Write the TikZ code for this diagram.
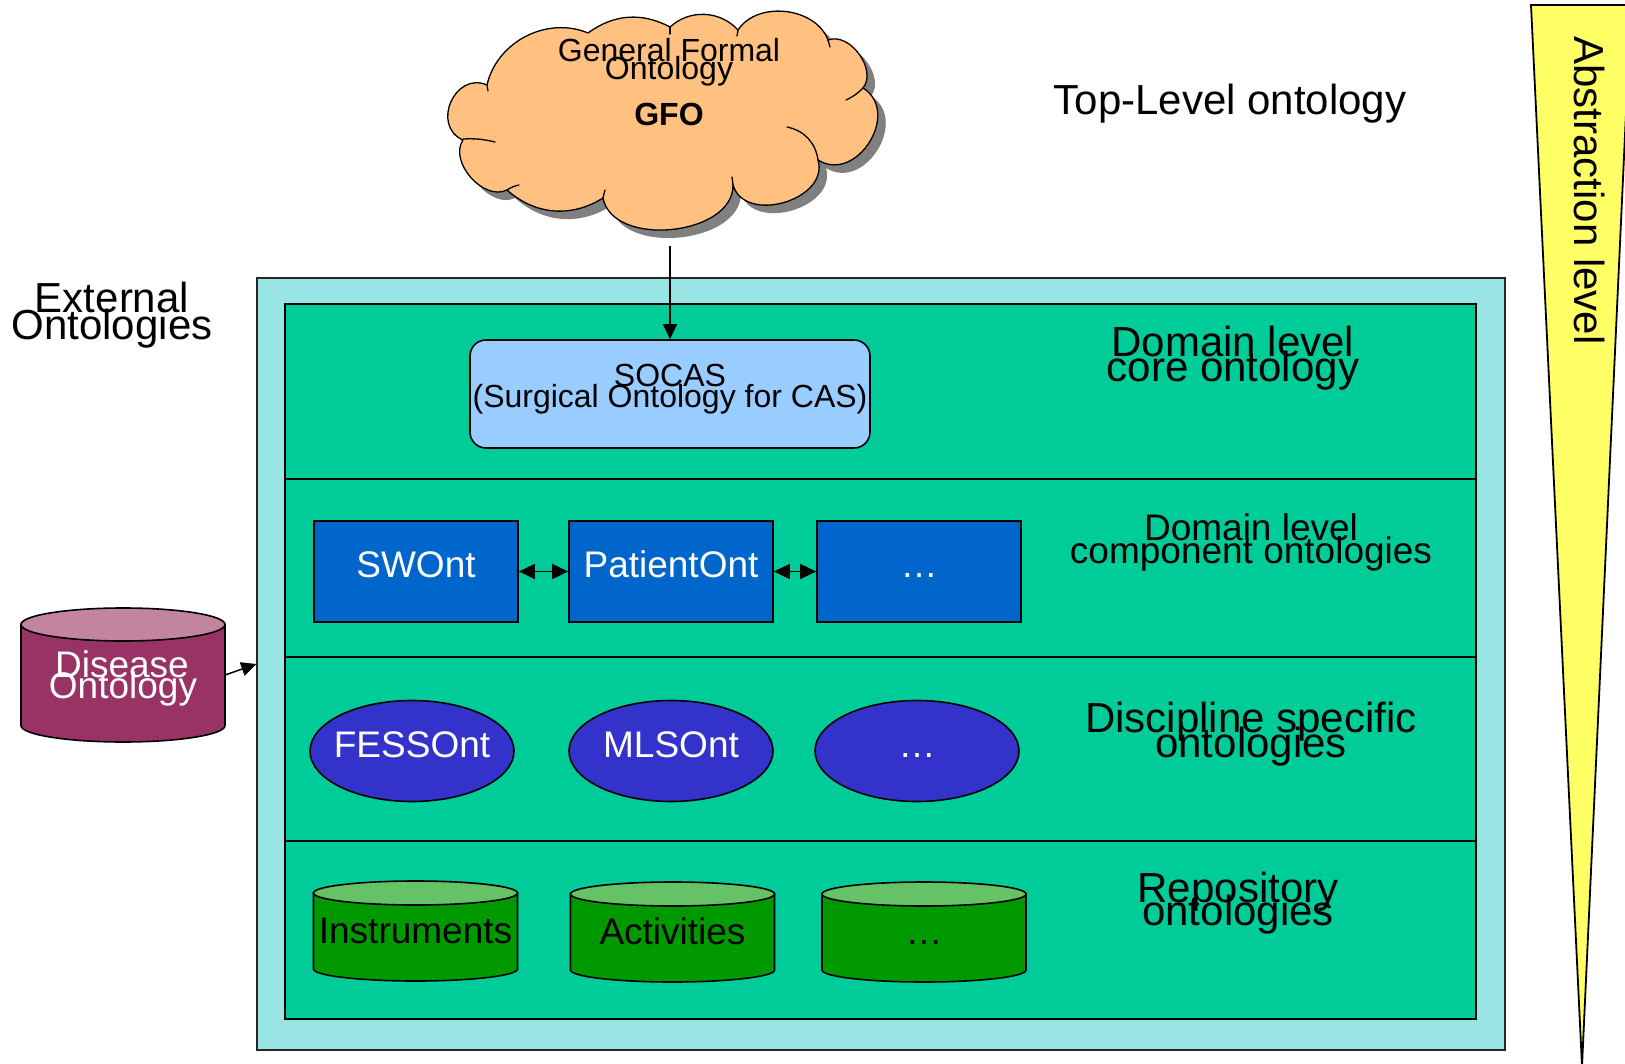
\documentclass[tikz,border=0pt]{standalone}
\usepackage{fontspec}
\setmainfont{Liberation Sans}
\usetikzlibrary{arrows.meta,calc,shapes.geometric}

\definecolor{frameCyan}{HTML}{99E5E5}
\definecolor{layerGreen}{HTML}{00CC99}
\definecolor{cloudOrange}{HTML}{FFC080}
\definecolor{coreBlue}{HTML}{99CCFF}
\definecolor{compBlue}{HTML}{0066CC}
\definecolor{discBlue}{HTML}{3333CC}
\definecolor{repoGreen}{HTML}{009900}
\definecolor{repoTop}{HTML}{66C266}
\definecolor{diseaseRed}{HTML}{993366}
\definecolor{diseaseTop}{HTML}{C2849F}
\definecolor{wedgeYellow}{HTML}{FFFF66}

\newcommand\setfs[1]{\fontsize{#1}{#1}\selectfont}

% drum (database) body: centre, half width, half height, end radius, body colour, lid colour
\newcommand\drumat[6]{%
  \filldraw[fill=#5, line width=1.6pt]
    ($(#1)+(-#2,-#3)$) -- ($(#1)+(-#2,#3)$)
    arc[start angle=180, end angle=360, x radius=#2pt, y radius=#4pt]
    -- ($(#1)+(#2,-#3)$) -- cycle;
  \filldraw[fill=#6, line width=1.6pt] ($(#1)+(0,-#3)$) ellipse[x radius=#2pt, y radius=#4pt];
}

% outline of the GFO cloud
\newcommand\cloudoutline{%
  (487,85)
  to[bend left=50] (588,33)
  to[bend left=32] (670,27)
  to[bend left=45] (738,30)
  to[bend left=63] (828,40)
  to[bend left=75] (863,88)
  to[bend left=90, looseness=1.37] (818,160)
  to[bend left=90, looseness=1.2] (733,185)
  to[bend left=85] (603,198)
  to[bend left=37] (507,190)
  to[bend left=75] (463,140)
  to[bend left=90, looseness=1.5] cycle}

\begin{document}
\begin{tikzpicture}[x=1pt, y=-1pt,
  lbl/.style={inner sep=0pt, anchor=base, font=\setfs{42}},
  frame/.style={draw=black!85, line width=1.4pt, fill=frameCyan, inner sep=0pt,
    minimum width=1248pt, minimum height=772pt},
  layer/.style={draw=black, line width=1.6pt, fill=layerGreen, inner sep=0pt,
    minimum width=1191pt},
  corebox/.style={draw=black, line width=1.6pt, fill=coreBlue, rounded corners=16pt,
    inner sep=0pt, minimum width=400pt, minimum height=108pt},
  compbox/.style={draw=black, line width=1.6pt, fill=compBlue, text=white,
    inner sep=0pt, minimum width=204pt, minimum height=101pt,
    font=\setfs{37}, text height=26pt, text depth=15pt},
  discoval/.style={draw=black, line width=1.6pt, fill=discBlue, text=white, ellipse,
    inner ysep=0pt, inner xsep=-40pt, minimum width=204pt, minimum height=101pt,
    font=\setfs{37}, text height=26pt, text depth=14pt},
  drumnode/.style={inner sep=0pt, minimum width=204pt, minimum height=76pt,
    font=\setfs{37}, text height=30pt, text depth=6pt},
  cloudline/.style={line width=1.3pt, line cap=round},
  arrow/.style={line width=1.5pt, -{Triangle[length=15pt, width=14pt]}},
  twoway/.style={line width=1.6pt,
    {Triangle[length=16pt, width=15pt]}-{Triangle[length=16pt, width=15pt]}},
]
\useasboundingbox (0,0) rectangle (1625,1064);

% abstraction wedge on the right
\filldraw[fill=wedgeYellow, line width=1.8pt, line join=miter]
  (1531,5) -- (1631,5) -- (1582,1066) -- cycle;
\node[lbl, rotate=-90] (abstraction) at (1574,190.5) {Abstraction level};

% top-level ontology cloud with its shadow
\fill[black!50, shift={(8,8)}] \cloudoutline;
\filldraw[fill=cloudOrange, line width=1.3pt] \cloudoutline;
\draw[cloudline] (487,85) -- (488,91);
\draw[cloudline] (670,27) -- (670,34);
\draw[cloudline] (738,30) -- (737,36);
\draw[cloudline] (828,40) -- (830,47);
\draw[cloudline] (863,88) to[bend left=10] (846,100);
\draw[cloudline] (787,127) to[bend left=35] (818,160);
\draw[cloudline] (733,185) -- (732,177);
\draw[cloudline] (603,198) -- (605,190);
\draw[cloudline] (507,190) to[bend left=10] (519,185);
\draw[cloudline] (463,139) to[bend left=8] (495,142);
\node[lbl, font=\setfs{32}] (gfoA) at (669,62) {General Formal};
\node[lbl, font=\setfs{32}] (gfoB) at (669,80) {Ontology};
\node[lbl, font=\setfs{32}\bfseries] (gfo) at (669,126) {GFO};
\coordinate (cloudfoot) at (670,246);

\node[lbl] (toplevel) at (1230,115) {Top-Level ontology};

% external ontologies
\node[lbl] (extA) at (112,313) {External};
\node[lbl] (extB) at (112,340) {Ontologies};

% framework frame and its four layers
\node[frame] (outer) at (881,664) {};
\node[layer, minimum height=175pt] (layerCore) at (880.5,391.5) {};
\node[layer, minimum height=178pt] (layerComp) at (880.5,568) {};
\node[layer, minimum height=184pt] (layerDisc) at (880.5,749) {};
\node[layer, minimum height=178pt] (layerRepo) at (880.5,930) {};

% domain level core ontology
\node[corebox] (socas) at (670,394) {};
\node[lbl, font=\setfs{32}] (socasA) at (670,387) {SOCAS};
\node[lbl, font=\setfs{32}] (socasB) at (670,407) {(Surgical Ontology for CAS)};
\node[lbl] (coreA) at (1233,357) {Domain level};
\node[lbl] (coreB) at (1233,382) {core ontology};

% domain level component ontologies
\node[compbox] (swont) at (416,571.5) {SWOnt};
\node[compbox] (patient) at (671,571.5) {PatientOnt};
\node[compbox] (compMore) at (919,571.5) {…};
\node[lbl, font=\setfs{37}] (compA) at (1251,540) {Domain level};
\node[lbl, font=\setfs{37}] (compB) at (1251,563) {component ontologies};

% discipline specific ontologies
\node[discoval] (fess) at (412,751) {FESSOnt};
\node[discoval] (mls) at (671,751) {MLSOnt};
\node[discoval] (discMore) at (917,751) {…};
\node[lbl] (discA) at (1251,732) {Discipline specific};
\node[lbl] (discB) at (1251,757) {ontologies};

% repository ontologies
\drumat{415.5,931}{102}{38}{12}{repoGreen}{repoTop}
\drumat{672.5,932}{102}{38}{12}{repoGreen}{repoTop}
\drumat{924,932}{102}{38}{12}{repoGreen}{repoTop}
\node[drumnode] (instruments) at (415.5,931) {Instruments};
\node[drumnode] (activities) at (672.5,932) {Activities};
\node[drumnode] (repoMore) at (924,932) {…};
\node[lbl] (repoA) at (1238,902) {Repository};
\node[lbl] (repoB) at (1238,925) {ontologies};

% external disease ontology
\drumat{123,675}{102}{50.5}{16.5}{diseaseRed}{diseaseTop}
\node[inner sep=0pt, minimum width=204pt, minimum height=101pt] (disease) at (123,675) {};
\node[lbl, font=\setfs{37}, text=white] (diseaseA) at (122,677) {Disease};
\node[lbl, font=\setfs{37}, text=white] (diseaseB) at (123,698) {Ontology};

% connectors
\draw[arrow] (cloudfoot) -- (socas.north);
\draw[twoway] (swont.east) -- (patient.west);
\draw[twoway] (patient.east) -- (compMore.west);
\draw[arrow] (disease.east) -- (outer.west);
\end{tikzpicture}
\end{document}
